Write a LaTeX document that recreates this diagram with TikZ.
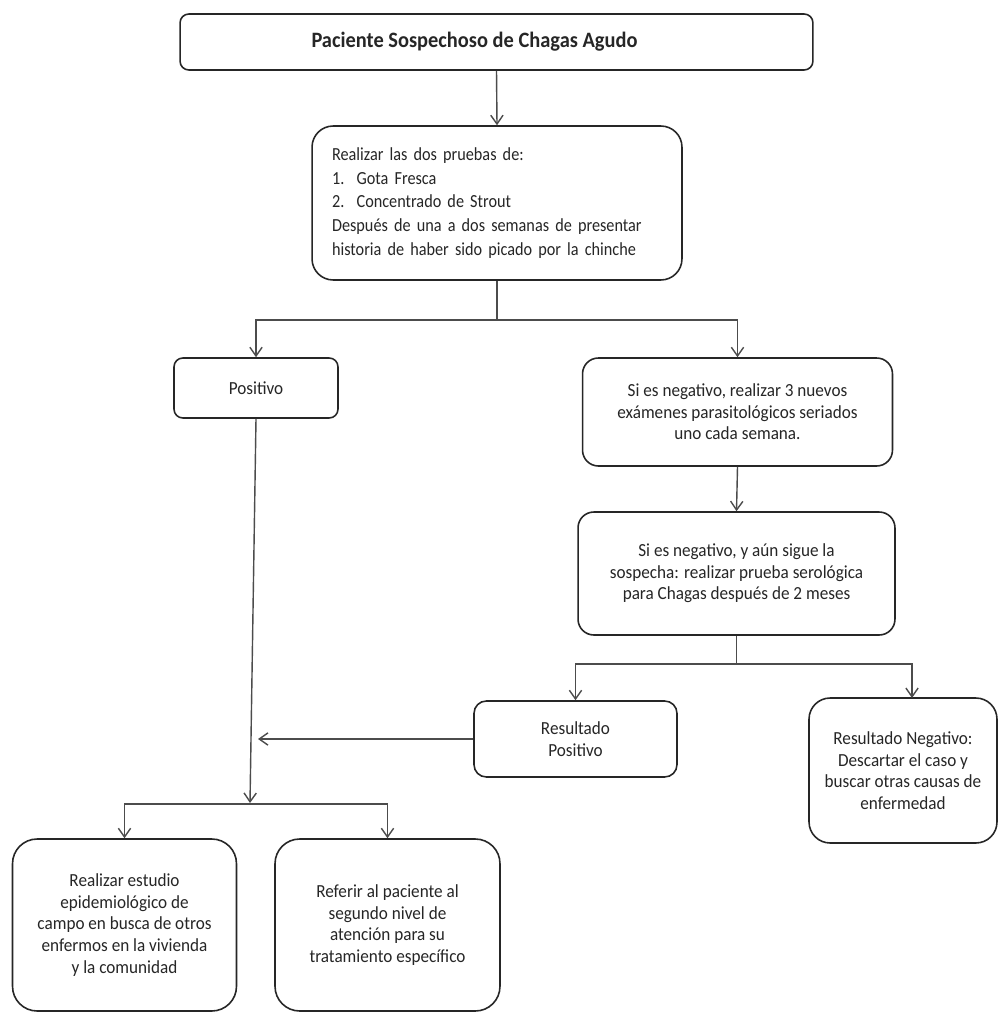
\documentclass[tikz,border=0pt]{standalone}
\usepackage{fontspec}
\setmainfont{Carlito}[FakeStretch=0.93]
\newfontfamily\condfont{Carlito}[FakeStretch=0.88]
\usetikzlibrary{arrows.meta}
\begin{document}
\begin{tikzpicture}[x=0.02cm,y=-0.02cm,
  box/.style={draw=black!85, line width=0.9pt, fill=white, align=center, inner sep=2pt, text=black!85,
    font=\fontsize{10.5}{12.3}\selectfont},
  conn/.style={draw=black!70, line width=0.8pt},
  arr/.style={conn, -{Straight Barb[length=5pt,width=7pt]}}]
\useasboundingbox (0,0) rectangle (999,1013);
\fill[white] (0,0) rectangle (999,1013);

\node[box, rounded corners=5pt, minimum width=12.66cm, minimum height=1.12cm,
  label={[xshift=-0.44cm, text=black!85, font=\bfseries\fontsize{12.5}{14}\selectfont]center:Paciente Sospechoso de Chagas Agudo}] (top) at (496.5,42) {};

\node[box, rounded corners=12pt, minimum width=7.4cm, minimum height=3.08cm,
  text width=6.6cm, align=left, font=\condfont\fontsize{10.5}{13.6}\selectfont] (b2) at (497,203)
  {Realizar las dos pruebas de:\\
   1.\ \ Gota Fresca\\
   2.\ \ Concentrado de Strout\\
   Después de una a dos semanas de presentar\\
   historia de haber sido picado por la chinche};

\node[box, rounded corners=5pt, minimum width=3.28cm, minimum height=1.2cm] (pos) at (256,388) {Positivo};

\node[box, rounded corners=9pt, minimum width=6.2cm, minimum height=2.16cm] (neg1) at (737.5,412)
  {Si es negativo, realizar 3 nuevos\\exámenes parasitológicos seriados\\uno cada semana.};

\node[box, rounded corners=9pt, minimum width=6.34cm, minimum height=2.46cm] (neg2) at (736.5,573.5)
  {Si es negativo, y aún sigue la\\sospecha: realizar prueba serológica\\para Chagas después de 2 meses};

\node[box, rounded corners=7pt, minimum width=4.06cm, minimum height=1.52cm] (rpos) at (575.5,739)
  {Resultado\\Positivo};

\node[box, rounded corners=12pt, minimum width=3.76cm, minimum height=2.9cm] (rneg) at (903,770.5)
  {Resultado Negativo:\\Descartar el caso y\\buscar otras causas de\\enfermedad};

\node[box, rounded corners=14pt, minimum width=4.48cm, minimum height=3.44cm] (epi) at (124.5,925)
  {Realizar estudio\\epidemiológico de\\campo en busca de otros\\enfermos en la vivienda\\y la comunidad};

\node[box, rounded corners=14pt, minimum width=4.5cm, minimum height=3.44cm] (ref) at (387.5,925)
  {Referir al paciente al\\segundo nivel de\\atención para su\\tratamiento específico};

% connectors
\draw[arr] (top.south) -- (b2.north);
\coordinate (s1) at (497,320);
\draw[conn] (b2.south) -- (s1);
\draw[arr] (s1) -| (pos.north);
\draw[arr] (s1) -| (neg1.north);
\draw[arr] (neg1.south) -- (neg2.north);
\coordinate (s2) at (736.5,664);
\coordinate (rnegin) at (912,698);
\draw[conn] (neg2.south) -- (s2);
\draw[arr] (s2) -| (rpos.north);
\draw[arr] (s2) -| (rnegin);
\coordinate (join) at (258,739);
\draw[arr] (rpos.west) -- (join);
\coordinate (s3) at (250,803);
\draw[arr] (pos.south) -- (s3);
\coordinate (s3h) at (250,804);
\draw[arr] (s3h) -| (epi.north);
\draw[arr] (s3h) -| (ref.north);
\end{tikzpicture}
\end{document}
